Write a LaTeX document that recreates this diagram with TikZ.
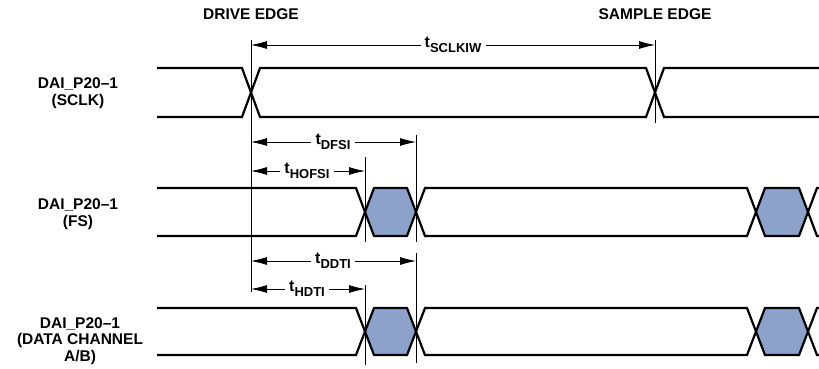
\documentclass[tikz,border=0pt]{standalone}
\usepackage{fontspec}
\setmainfont{Liberation Sans}[UprightFont={* Bold}, BoldFont={* Bold}]
\usetikzlibrary{arrows.meta,positioning}
\definecolor{busblue}{RGB}{140,162,202}
\newcommand{\tparam}[1]{{\fontsize{16bp}{16bp}\selectfont t}\raisebox{-5bp}{\fontsize{13bp}{13bp}\selectfont #1}}

\begin{document}
\begin{tikzpicture}
        [
            x=1bp, y=-1bp,
            font=\fontsize{15.5bp}{16.5bp}\selectfont,
            signal/.style={line width=2.2bp, line join=miter},
            edgeline/.style={line width=0.8bp},
            timing/.style={line width=0.8bp, -{Latex[length=16bp,width=8bp]}},
            tlabel/.style={inner sep=4bp, fill=white},
            rowlabel/.style={align=center},
        ]
            \useasboundingbox (0,0) rectangle (819,368);

            % headings and row names
            \node (driveedge) at (251,14) {DRIVE EDGE};
            \node (sampleedge) at (655,14) {SAMPLE EDGE};
            \node[rowlabel] (sclk) at (78,93) {DAI\_P20–1\\(SCLK)};
            \node[rowlabel] (fs) at (78,214) {DAI\_P20–1\\(FS)};
            \node[rowlabel] (data) at (80,341) {DAI\_P20–1\\(DATA CHANNEL\\A/B)};

            % valid windows
            \fill[busblue] (365,212) -- (374,188) -- (407,188) -- (416,212) -- (407,236) -- (374,236) -- cycle;
            \fill[busblue] (756,212) -- (765,188) -- (799,188) -- (808,212) -- (799,236) -- (765,236) -- cycle;
            \fill[busblue] (365,331.5) -- (374,308) -- (407,308) -- (416,331.5) -- (407,355) -- (374,355) -- cycle;
            \fill[busblue] (756,331.5) -- (765,308) -- (799,308) -- (808,331.5) -- (799,355) -- (765,355) -- cycle;

            % waveforms
            \draw[signal] (157,68) -- (242,68) -- (260,117) -- (646,117) -- (664,68) -- (819,68);
            \draw[signal] (157,117) -- (242,117) -- (260,68) -- (646,68) -- (664,117) -- (819,117);
            \draw[signal] (157,188) -- (356,188) -- (374,236) -- (407,236) -- (425,188) -- (747,188) -- (765,236) -- (799,236) -- (817,188) -- (819,188);
            \draw[signal] (157,236) -- (356,236) -- (374,188) -- (407,188) -- (425,236) -- (747,236) -- (765,188) -- (799,188) -- (817,236) -- (819,236);
            \draw[signal] (157,308) -- (356,308) -- (374,355) -- (407,355) -- (425,308) -- (747,308) -- (765,355) -- (799,355) -- (817,308) -- (819,308);
            \draw[signal] (157,355) -- (356,355) -- (374,308) -- (407,308) -- (425,355) -- (747,355) -- (765,308) -- (799,308) -- (817,355) -- (819,355);

            % edge lines
            \coordinate (drive) at (251,40);
            \coordinate (driveend) at (251,292);
            \coordinate (sample) at (655,40);
            \coordinate (sampleend) at (655,123);
            \coordinate (hofsi) at (365,157);
            \coordinate (hofsiend) at (365,242);
            \coordinate (dfsi) at (416,135);
            \coordinate (dfsiend) at (416,242);
            \coordinate (hdti) at (365,285);
            \coordinate (hdtiend) at (365,365);
            \coordinate (ddti) at (416,253);
            \coordinate (ddtiend) at (416,363);
            \draw[edgeline] (drive) -- (driveend);
            \draw[edgeline] (sample) -- (sampleend);
            \draw[edgeline] (hofsi) -- (hofsiend);
            \draw[edgeline] (dfsi) -- (dfsiend);
            \draw[edgeline] (hdti) -- (hdtiend);
            \draw[edgeline] (ddti) -- (ddtiend);

            % timing arrows
            \node[tlabel] (tsclkiw) at (453,45) {\tparam{SCLKIW}};
            \node[tlabel] (tdfsi) at (333,142) {\tparam{DFSI}};
            \node[tlabel] (thofsi) at (307,171) {\tparam{HOFSI}};
            \node[tlabel] (tddti) at (333,261) {\tparam{DDTI}};
            \node[tlabel] (thdti) at (307,289) {\tparam{HDTI}};

            \draw[timing] (tsclkiw) -- (tsclkiw -| drive);
            \draw[timing] (tsclkiw) -- (tsclkiw -| sample);
            \draw[timing] (tdfsi) -- (tdfsi -| drive);
            \draw[timing] (tdfsi) -- (tdfsi -| dfsi);
            \draw[timing] (thofsi) -- (thofsi -| drive);
            \draw[timing] (thofsi) -- (thofsi -| hofsi);
            \draw[timing] (tddti) -- (tddti -| drive);
            \draw[timing] (tddti) -- (tddti -| ddti);
            \draw[timing] (thdti) -- (thdti -| drive);
            \draw[timing] (thdti) -- (thdti -| hdti);
        \end{tikzpicture}
\end{document}
